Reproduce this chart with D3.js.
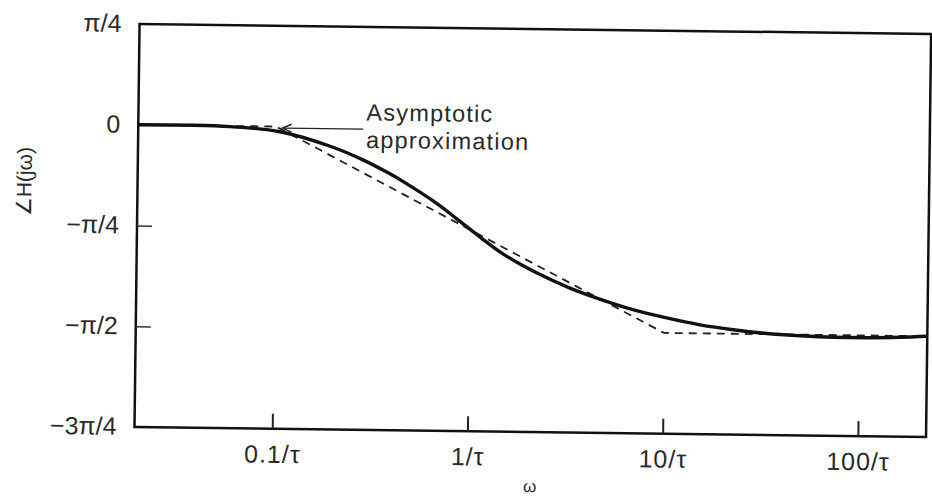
<!DOCTYPE html>
<html>
<head>
<meta charset="utf-8">
<script src="https://cdn.jsdelivr.net/npm/d3@7"></script>
<style>
  body { margin: 0; background: #fff; }
  text { font-family: "Liberation Sans", Arial, sans-serif; fill: #2a2a2a; }
</style>
</head>
<body>
<div id="viz-container"></div>
<script>
// phase of H(jw) (degrees), w in units of 1/tau
const omega    = [0.0197, 0.058, 0.105, 0.19, 0.282, 0.386, 0.45, 0.675, 0.857, 1.167, 1.48, 2.22, 3.28, 4.51, 6.92, 10.3, 15.3, 22.6, 33.7, 49.9, 73.5, 110, 162, 223.5];
const phaseDeg = [0, -0.3, -2.3, -8.5, -14.5, -20.5, -23.8, -33.5, -40.3, -49.2, -55.6, -64, -70.5, -74.8, -79.8, -83.3, -86.2, -88.2, -89.7, -90.5, -91, -91, -90.6, -90];

// straight-line asymptotic approximation
const asymOmega = [0.0197, 0.1, 10, 223.5];
const asymDeg   = [0, 0, -90, -90];

const xTicks = [0.1, 1, 10, 100];
const xTickLabels = ["0.1/τ", "1/τ", "10/τ", "100/τ"];
const yTicks = [Math.PI / 4, 0, -Math.PI / 4, -Math.PI / 2, -3 * Math.PI / 4];
const yTickLabels = ["π/4", "0", "−π/4", "−π/2", "−3π/4"];

const width = 932, height = 497;
const L = 137, R = 928.6, T = 29, B = 432;

const svg = d3.select('#viz-container')
    .append('svg')
        .attr('width', width)
        .attr('height', height);

// the scanned figure is slightly tilted
const g = svg.append('g').attr('transform', 'rotate(0.72, 532, 230)');

const x = d3.scaleLog().domain([0.0197, 223.5]).range([L, R]);
const y = d3.scaleLinear().domain([-3 * Math.PI / 4, Math.PI / 4]).range([B, T]);
const rad = d => d * Math.PI / 180;

// frame
g.append('rect')
    .attr('x', L).attr('y', T)
    .attr('width', R - L).attr('height', B - T)
    .attr('fill', 'none')
    .attr('stroke', '#111')
    .attr('stroke-width', 2.5);

// x ticks (inside) and labels
const xAxis = d3.axisBottom(x).tickValues(xTicks).tickSize(0).tickFormat((d, i) => xTickLabels[i]);
const xg = g.append('g').attr('transform', `translate(0,${B})`).call(xAxis);
xg.select('.domain').remove();
xg.selectAll('.tick text')
    .attr('y', 34).attr('dy', 0)
    .attr('font-size', 25)
    .attr('letter-spacing', 1)
    .style('font-family', '"Liberation Sans", Arial, sans-serif')
    .attr('fill', '#2a2a2a');
xg.selectAll('.tick').append('line')
    .attr('y1', 0).attr('y2', -15)
    .attr('stroke', '#222').attr('stroke-width', 2);

// y ticks and labels
const yAxis = d3.axisLeft(y).tickValues(yTicks).tickSize(0).tickFormat((d, i) => yTickLabels[i]);
const yg = g.append('g').attr('transform', `translate(${L},0)`).call(yAxis);
yg.select('.domain').remove();
yg.selectAll('.tick text')
    .attr('x', -18)
    .attr('dy', '0.3em')
    .attr('font-size', 25)
    .style('font-family', '"Liberation Sans", Arial, sans-serif')
    .attr('fill', '#2a2a2a');
yg.selectAll('.tick')
    .filter(d => d < 0 && d > -2)
    .append('line')
    .attr('x1', 0).attr('x2', 15)
    .attr('stroke', '#333').attr('stroke-width', 1.5);

// asymptote (dashed)
const asymLine = d3.line()
    .x(d => x(d[0]))
    .y(d => y(rad(d[1])));
g.append('path')
    .datum(asymOmega.map((w, i) => [w, asymDeg[i]]))
    .attr('d', asymLine)
    .attr('fill', 'none')
    .attr('stroke', '#222')
    .attr('stroke-width', 1.8)
    .attr('stroke-dasharray', '8,6');

// phase curve
const phaseLine = d3.line()
    .curve(d3.curveCatmullRom.alpha(0.5))
    .x(d => x(d[0]))
    .y(d => y(rad(d[1])));
g.append('path')
    .datum(omega.map((w, i) => [w, phaseDeg[i]]))
    .attr('d', phaseLine)
    .attr('fill', 'none')
    .attr('stroke', '#111')
    .attr('stroke-width', 3.4)
    .attr('stroke-linejoin', 'round');

// annotation
const tipX = x(0.108), tipY = y(0) + 1.5;
g.append('line')
    .attr('x1', tipX + 2).attr('y1', tipY)
    .attr('x2', 362).attr('y2', tipY)
    .attr('stroke', '#222').attr('stroke-width', 1.3);
g.append('path')
    .attr('d', `M${tipX + 9},${tipY - 4} L${tipX},${tipY} L${tipX + 9},${tipY + 4}`)
    .attr('fill', 'none').attr('stroke', '#222').attr('stroke-width', 1.5);
g.append('text')
    .attr('x', 365).attr('y', 122.5)
    .attr('font-size', 23.5)
    .attr('letter-spacing', 1.2)
    .text('Asymptotic');
g.append('text')
    .attr('x', 365).attr('y', 150)
    .attr('font-size', 23.5)
    .attr('letter-spacing', 1.2)
    .text('approximation');

// axis titles
g.append('text')
    .attr('x', 533).attr('y', 492)
    .attr('text-anchor', 'middle')
    .attr('font-size', 17)
    .text('ω');
g.append('text')
    .attr('transform', 'translate(31,188) rotate(-90)')
    .attr('text-anchor', 'middle')
    .attr('font-size', 21)
    .text('∠H(jω)');
</script>
</body>
</html>
